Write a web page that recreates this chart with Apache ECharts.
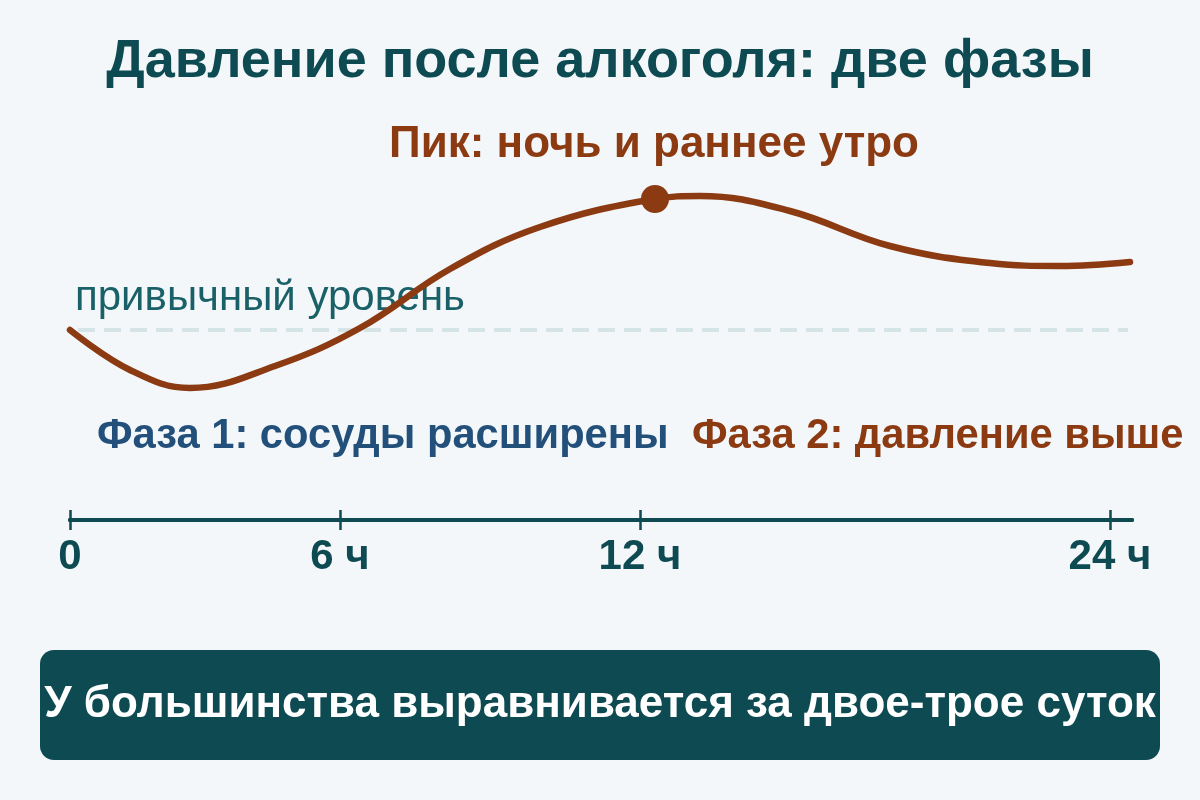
<!DOCTYPE html>
<html><head><meta charset="utf-8">
<script src="https://cdn.jsdelivr.net/npm/echarts@6/dist/echarts.min.js"></script>
<style>html,body{margin:0;padding:0;background:#f3f7f9;}#c{width:1200px;height:800px;}</style>
</head><body><div id="c"></div>
<script>
// x: position along the (non-uniform) time axis, y: pressure relative to the usual level (0)
const curveX = [0, 60, 120, 205, 290, 380, 470, 585, 630, 720, 820, 920, 990, 1060];
const curveY = [0, -40, -58, -36, 2, 61, 103, 131, 134, 119, 84, 67, 64, 68];
const peakPoint = [585, 131];
const tickValues = [0, 270, 570, 1040];
const tickLabels = ['0', '6 ч', '12 ч', '24 ч'];
const baselineValue = 0;
const xMin = 0, xMax = 1062;

const teal = '#0d4a52', brown = '#8b3a12', blue = '#22507a';
const F = '"Liberation Sans", Arial, sans-serif';
const chart = echarts.init(document.getElementById('c'));
const axisBase = {
  type: 'value', min: xMin, max: xMax, position: 'bottom',
  splitLine: {show: false},
  axisLine: {show: true, onZero: false, lineStyle: {color: teal, width: 4}}
};
chart.setOption({
  backgroundColor: '#f3f7f9',
  animation: false,
  grid: {left: 70, right: 1200 - 70 - xMax, top: 150, bottom: 280},
  xAxis: [
    Object.assign({}, axisBase, {
      axisTick: {show: true, customValues: tickValues, length: 10, lineStyle: {color: teal, width: 2.5}},
      axisLabel: {show: true, customValues: tickValues, margin: 16,
        formatter: v => tickLabels[tickValues.indexOf(v)],
        fontFamily: F, fontSize: 42, fontWeight: 'bold', color: teal}
    }),
    Object.assign({}, axisBase, {
      axisTick: {show: true, inside: true, customValues: tickValues, length: 10, lineStyle: {color: teal, width: 2.5}},
      axisLabel: {show: false}
    })
  ],
  yAxis: {type: 'value', min: -190, max: 180, show: false},
  series: [
    {type: 'line', xAxisIndex: 0, data: [[xMin + 8, baselineValue], [xMax - 4, baselineValue]],
     symbol: 'none', silent: true,
     lineStyle: {color: '#d5e5e7', width: 4, type: [17, 9]}, z: 1},
    {type: 'line', xAxisIndex: 0, data: curveX.map((x, i) => [x, curveY[i]]),
     smooth: 0.4, symbol: 'none',
     lineStyle: {color: brown, width: 6.5, cap: 'round', join: 'round'}, z: 5},
    {type: 'scatter', xAxisIndex: 0, data: [peakPoint], symbolSize: 28,
     itemStyle: {color: brown, opacity: 1}, z: 6}
  ],
  graphic: [
    {type: 'text', x: 600, y: 62, style: {text: 'Давление после алкоголя: две фазы', fontFamily: F, fontSize: 54, fontWeight: 'bold', fill: teal, align: 'center', verticalAlign: 'middle'}},
    {type: 'text', x: 654, y: 145, style: {text: 'Пик: ночь и раннее утро', fontFamily: F, fontSize: 44, fontWeight: 'bold', fill: brown, align: 'center', verticalAlign: 'middle'}},
    {type: 'text', x: 75, y: 298, z: -1, style: {text: 'привычный уровень', fontFamily: F, fontSize: 42, fill: '#1a6068', align: 'left', verticalAlign: 'middle'}},
    {type: 'text', x: 97, y: 437, style: {text: 'Фаза 1: сосуды расширены', fontFamily: F, fontSize: 41.7, fontWeight: 'bold', fill: blue, align: 'left', verticalAlign: 'middle'}},
    {type: 'text', x: 692, y: 437, style: {text: 'Фаза 2: давление выше', fontFamily: F, fontSize: 41.7, fontWeight: 'bold', fill: brown, align: 'left', verticalAlign: 'middle'}},
    {type: 'rect', shape: {x: 40, y: 650, width: 1120, height: 110, r: 14}, style: {fill: teal}},
    {type: 'text', x: 600, y: 705, style: {text: 'У большинства выравнивается за двое-трое суток', fontFamily: F, fontSize: 44, fontWeight: 'bold', fill: '#ffffff', align: 'center', verticalAlign: 'middle'}}
  ]
});
</script></body></html>
